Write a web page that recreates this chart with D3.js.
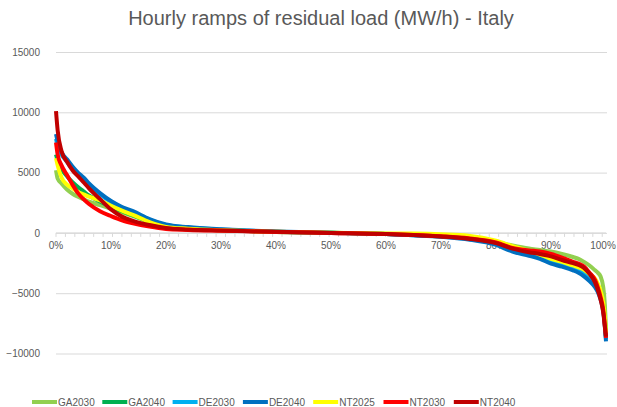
<!DOCTYPE html>
<html>
<head>
<meta charset="utf-8">
<script src="https://cdn.jsdelivr.net/npm/d3@7"></script>
<style>
  body { margin: 0; background: #fff; }
  svg text { font-family: "Liberation Sans", Arial, sans-serif; fill: #595959; }
</style>
</head>
<body>
<svg id="chart" width="617" height="407"></svg>
<script>
const svg = d3.select("#chart");

const pct = [0, 0.3, 1, 2, 3, 4, 5, 6, 8, 10, 12, 14, 17, 20, 24, 30, 35, 40, 50, 60, 65, 70, 75, 80, 83, 86, 88, 90, 92, 94, 95, 96, 97, 98, 98.5, 99, 99.5, 99.8, 100];

const ga2030 = [5200, 4500, 4100, 3600, 3250, 3000, 2800, 2600, 2300, 2000, 1700, 1400, 900, 550, 380, 230, 150, 80, 10, -80, -140, -230, -400, -750, -1050, -1300, -1420, -1550, -1750, -2000, -2150, -2400, -2700, -3100, -3300, -3600, -4500, -6000, -8000];
const ga2040 = [6500, 6000, 5300, 4700, 4200, 3800, 3450, 3100, 2600, 2150, 1800, 1450, 950, 580, 400, 250, 160, 90, 10, -90, -160, -270, -450, -850, -1250, -1550, -1750, -1950, -2200, -2500, -2700, -2950, -3350, -3900, -4400, -5000, -6000, -7300, -8700];
const de2030 = [7800, 7200, 6500, 5900, 5300, 4850, 4450, 4000, 3200, 2550, 2100, 1700, 1100, 650, 450, 280, 180, 100, 10, -100, -190, -300, -500, -900, -1400, -1750, -2000, -2300, -2550, -2800, -3000, -3300, -3700, -4200, -4700, -5300, -6300, -7500, -8800];
const de2040 = [8200, 7600, 6700, 6100, 5500, 5000, 4600, 4100, 3300, 2650, 2150, 1800, 1150, 700, 480, 300, 200, 120, 20, -100, -200, -320, -550, -1000, -1550, -1900, -2150, -2550, -2800, -3100, -3300, -3600, -4000, -4500, -4900, -5500, -6500, -7800, -9000];
const nt2025 = [6200, 5600, 4600, 4000, 3700, 3400, 3200, 3000, 2700, 2250, 1850, 1500, 900, 500, 350, 220, 150, 90, 10, -40, -60, -120, -230, -650, -1100, -1500, -1800, -2150, -2400, -2700, -2850, -3050, -3400, -3800, -4200, -4800, -5800, -7000, -8300];
const nt2030 = [7500, 6500, 5600, 4800, 4000, 3300, 2800, 2400, 1800, 1400, 1050, 800, 520, 330, 250, 180, 130, 80, 0, -90, -170, -280, -450, -800, -1250, -1450, -1550, -1750, -2050, -2400, -2550, -2800, -3300, -3900, -4500, -5300, -6400, -7700, -8700];
const nt2040 = [10100, 8500, 6800, 5900, 5200, 4700, 4200, 3700, 2800, 1950, 1350, 1000, 650, 400, 280, 200, 140, 90, 0, -90, -180, -300, -480, -850, -1300, -1600, -1750, -1950, -2250, -2500, -2650, -2900, -3400, -4100, -4700, -5500, -6600, -7800, -8600];

const seriesNames = ["GA2030", "GA2040", "DE2030", "DE2040", "NT2025", "NT2030", "NT2040"];
const seriesValues = [ga2030, ga2040, de2030, de2040, nt2025, nt2030, nt2040];
const seriesColors = ["#92d050", "#00b050", "#00b0f0", "#0070c0", "#ffff00", "#ff0000", "#c00000"];

const yTicks = [-10000, -5000, 0, 5000, 10000, 15000];
const xLabels = [0, 10, 20, 30, 40, 50, 60, 70, 80, 90, 100];

const x = d3.scaleLinear().domain([0, 100]).range([56, 606]);
const y = d3.scaleLinear().domain([-10000, 15000]).range([353.5, 52]);

// title
svg.append("text")
  .attr("x", 321).attr("y", 25)
  .attr("text-anchor", "middle")
  .style("font-size", "20px")
  .text("Hourly ramps of residual load (MW/h) - Italy");

// y grid + labels
const yAxis = d3.axisLeft(y).tickValues(yTicks).tickSize(-551).tickPadding(15).tickFormat(d3.format("d"));
const gy = svg.append("g").attr("transform", "translate(56,0)").call(yAxis);
gy.select(".domain").remove();
gy.selectAll("line").attr("stroke", "#d9d9d9").attr("x2", 551);
gy.selectAll("text").style("font-size", "10px").attr("x", -16);

// x axis at zero
svg.append("line")
  .attr("x1", x(0)).attr("x2", x(100))
  .attr("y1", y(0)).attr("y2", y(0))
  .attr("stroke", "#d9d9d9");

svg.append("g").selectAll("line")
  .data(d3.range(0, 8761, 150))
  .join("line")
  .attr("x1", d => x(d / 87.6)).attr("x2", d => x(d / 87.6))
  .attr("y1", y(0)).attr("y2", y(0) + 4)
  .attr("stroke", "#d9d9d9");

svg.append("g").selectAll("text")
  .data(xLabels)
  .join("text")
  .attr("x", d => d === 100 ? x(d) - 3 : x(d))
  .attr("y", y(0) + 16)
  .attr("text-anchor", "middle")
  .style("font-size", "10px")
  .text(d => d + "%");

// curves
const line = d3.line()
  .x((d, i) => x(pct[i]))
  .y(d => y(d))
  .curve(d3.curveMonotoneX);

svg.append("g").selectAll("path")
  .data(seriesValues)
  .join("path")
  .attr("d", d => line(d))
  .attr("fill", "none")
  .attr("stroke", (d, i) => seriesColors[i])
  .attr("stroke-width", 4)
  .attr("stroke-linejoin", "round");

// legend
const legend = svg.append("g").selectAll("g")
  .data(seriesNames)
  .join("g")
  .attr("transform", (d, i) => `translate(${32 + i * 70.3},402)`);

legend.append("line")
  .attr("x1", 0).attr("x2", 25)
  .attr("stroke", (d, i) => seriesColors[i])
  .attr("stroke-width", 4);

legend.append("text")
  .attr("x", 26).attr("y", 4)
  .style("font-size", "10px")
  .text(d => d);
</script>
</body>
</html>
